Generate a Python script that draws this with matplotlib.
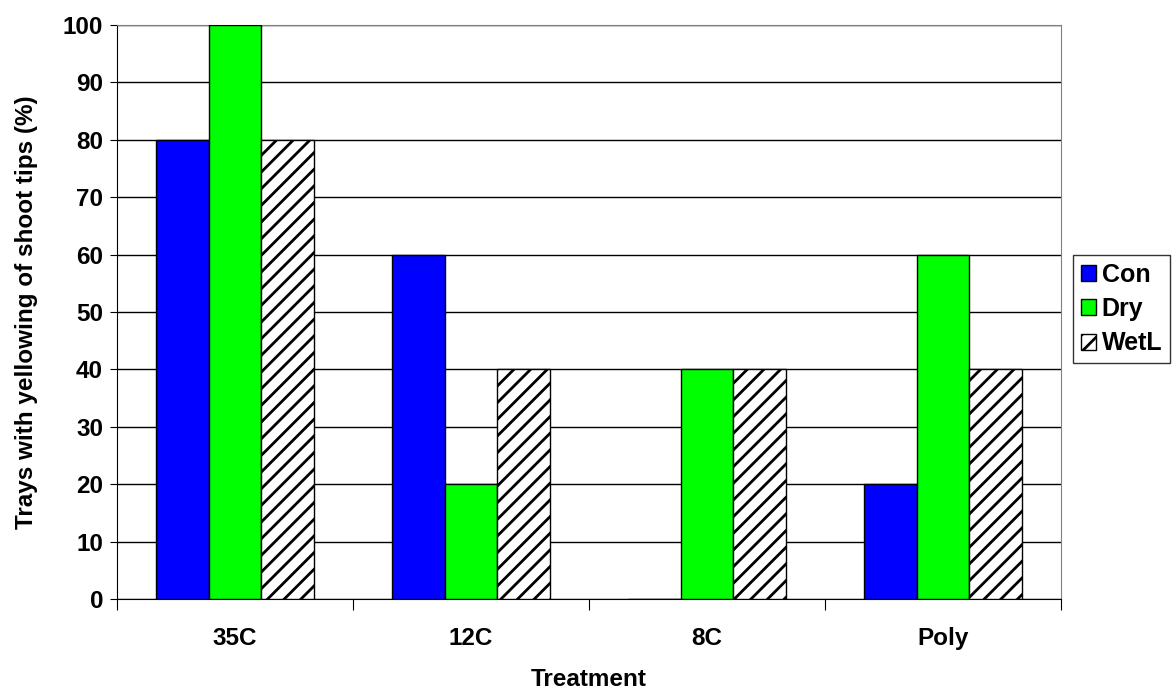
import numpy as np
import matplotlib.pyplot as plt

plt.rcParams['font.family'] = ['Liberation Sans', 'DejaVu Sans']
plt.rcParams['font.weight'] = 'bold'
plt.rcParams['hatch.linewidth'] = 2.0

# treatments and percent of trays showing yellowing
treatments = ['35C', '12C', '8C', 'Poly']
con = [80, 60, 0, 20]
dry = [100, 20, 40, 60]
wetl = [80, 40, 40, 40]

fig = plt.figure(figsize=(11.74, 6.93), dpi=100)
ax = fig.add_axes([117 / 1174, 1 - 599 / 693, 944 / 1174, 574 / 693])

x = np.arange(len(treatments))
w = 1 / 4.5  # gap width of 150%

ax.bar(x - w, con, w, color='#0000FF', edgecolor='black', linewidth=1, label='Con', zorder=3)
ax.bar(x, dry, w, color='#00FF00', edgecolor='black', linewidth=1, label='Dry', zorder=3)
ax.bar(x + w, wetl, w, color='white', edgecolor='black', linewidth=1, hatch='//', label='WetL', zorder=3)

ax.set_xlim(-0.5, len(treatments) - 0.5)
ax.set_ylim(0, 100)
ax.set_yticks(np.arange(0, 101, 10))
ax.yaxis.grid(True, color='black', linewidth=1, zorder=0)

# group separators as tick marks, category names centred between them
ax.set_xticks(np.arange(-0.5, len(treatments)), minor=False)
ax.set_xticklabels([])
ax.set_xticks(x, minor=True)
ax.set_xticklabels(treatments, minor=True, fontsize=17.5, fontweight='bold')
ax.tick_params(axis='x', which='major', length=8, direction='out', color='black')
ax.tick_params(axis='x', which='minor', length=0, pad=20)
ax.tick_params(axis='y', length=5, direction='out', labelsize=17.5, pad=5)
for lbl in ax.get_yticklabels():
    lbl.set_fontweight('bold')

for side in ['top', 'right']:
    ax.spines[side].set_color('#808080')
ax.spines['left'].set_color('black')
ax.spines['bottom'].set_color('black')

ax.set_xlabel('Treatment', fontsize=17.5, fontweight='bold', labelpad=13)
ax.set_ylabel('Trays with yellowing of shoot tips (%)', fontsize=17.5, fontweight='bold', labelpad=18)

leg = fig.legend(loc='upper left', bbox_to_anchor=(1073 / 1174, 1 - 255 / 693), frameon=True,
                 fancybox=False, edgecolor='black', fontsize=18, handlelength=0.6, handleheight=0.6,
                 handletextpad=0.25, borderpad=0.3, labelspacing=0.42, borderaxespad=0)
leg.get_frame().set_linewidth(1)
for t in leg.get_texts():
    t.set_fontweight('bold')

fig.savefig('out.png', dpi=100)
